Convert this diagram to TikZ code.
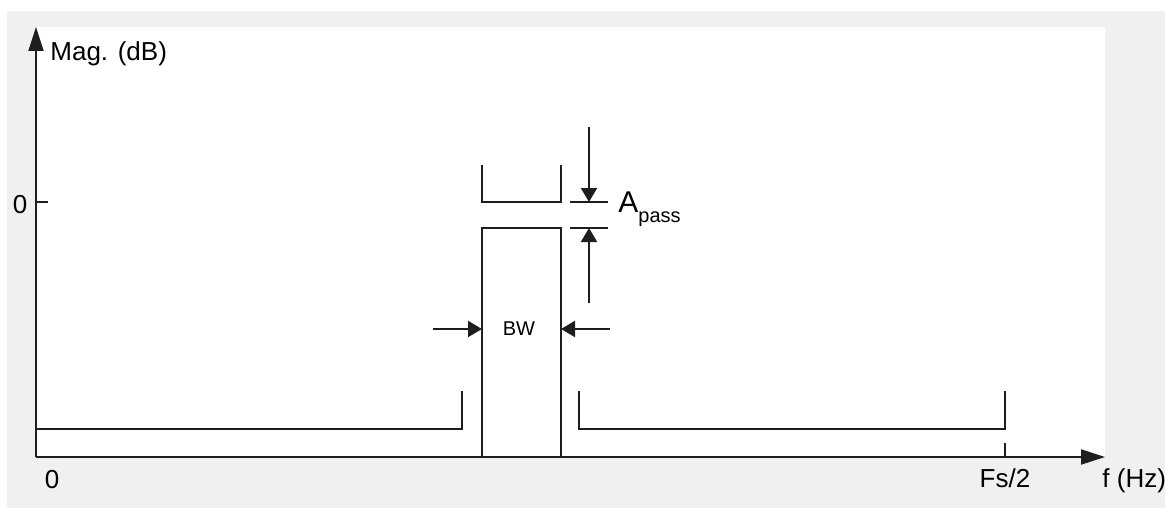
\documentclass[tikz,border=0pt]{standalone}
\usepackage{fontspec}
\setmainfont{Liberation Sans}
\usepackage{xcolor}
\usepackage{tikz}
\usetikzlibrary{arrows.meta}
\definecolor{latar}{HTML}{F0F0F0}
\definecolor{tinta}{HTML}{1E1E1E}

\begin{document}
\begin{tikzpicture}[
    x=0.5pt, y=-0.5pt,
    font=\fontsize{13}{15}\selectfont,
    garis/.style={draw=tinta, line width=1pt},
    sumbu/.style={garis, -{Triangle[length=12pt, width=7.5pt]}},
    ukur/.style={garis, -{Triangle[length=7pt, width=8pt]}},
    teks/.style={inner sep=0pt, text=black}
  ]
    \useasboundingbox (0,0) rectangle (1165,508);
    \fill[latar] (7,11) rectangle (1165,508);
    \fill[white] (36,27) rectangle (1105,457);
    \coordinate (asal) at (36,457);
    \coordinate (puncakY) at (36,27);
    \coordinate (ujungX) at (1105,457);
    \draw[sumbu] (asal) -- (puncakY);
    \draw[sumbu] (asal) -- (ujungX);
    \node[teks, anchor=base west] (mag) at (50,61) {Mag. (dB)};
    \node[teks, anchor=base] (nolY) at (20,213) {0};
    \node[teks, anchor=base] (nolX) at (52,488) {0};
    \node[teks, anchor=base] (fs) at (1005,487) {Fs/2};
    \node[teks, anchor=base west] (hz) at (1102,487) {f (Hz)};
    \draw[garis] (36,202) -- (48,202);
    \draw[garis] (1005,443) -- (1005,457);
    \draw[garis] (36,429) -- (462,429) -- (462,391);
    \draw[garis] (482,457) -- (482,228) -- (561,228) -- (561,457);
    \draw[garis] (482,165) -- (482,202) -- (561,202) -- (561,165);
    \draw[garis] (579,391) -- (579,429) -- (1005,429) -- (1005,391);
    \coordinate (atasA) at (589,202);
    \coordinate (bawahA) at (589,228);
    \draw[garis] (570,202) -- (608,202);
    \draw[garis] (570,228) -- (608,228);
    \draw[ukur] (589,127) -- (atasA);
    \draw[ukur] (589,303) -- (bawahA);
    \node[teks, anchor=base west] (apass) at (618,212)
      {{\fontsize{15}{17}\selectfont A}\raisebox{-5pt}{\fontsize{10}{12}\selectfont pass}};
    \node[teks, font=\fontsize{10}{12}\selectfont] (bw) at (519,329) {BW};
    \coordinate (kiriBW) at (482,329);
    \coordinate (kananBW) at (561,329);
    \draw[ukur] (433,329) -- (kiriBW);
    \draw[ukur] (610,329) -- (kananBW);
  \end{tikzpicture}
\end{document}
